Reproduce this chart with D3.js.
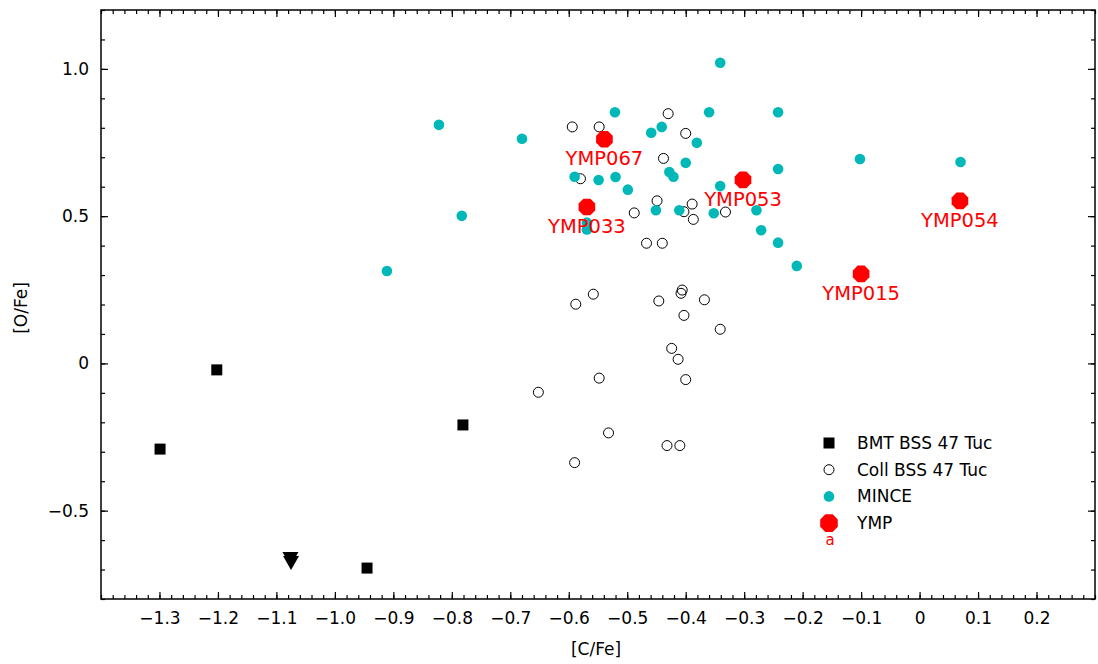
<!DOCTYPE html>
<html>
<head>
<meta charset="utf-8">
<script src="https://cdn.jsdelivr.net/npm/d3@7"></script>
<style>
  body { margin: 0; background: #fff; }
  text { font-family: "DejaVu Sans", sans-serif; }
</style>
</head>
<body>
<div id="chart"></div>
<script>
// BMT BSS 47 Tuc (squares) and the two upper limits (triangles)
const bmtC = [-1.299, -1.202, -0.781, -0.945];
const bmtO = [-0.291, -0.022, -0.209, -0.695];
const bmtLimC = [-1.076, -1.075];
const bmtLimO = [-0.661, -0.674];

// Coll BSS 47 Tuc (open circles)
const collC = [-0.594, -0.548, -0.430, -0.400, -0.580, -0.438, -0.389, -0.403, -0.449, -0.488,
               -0.387, -0.332, -0.467, -0.440, -0.406, -0.408, -0.446, -0.368, -0.588, -0.558,
               -0.403, -0.341, -0.424, -0.413, -0.548, -0.400, -0.652, -0.532, -0.432, -0.410, -0.590];
const collO = [0.803, 0.803, 0.848, 0.781, 0.627, 0.696, 0.541, 0.515, 0.552, 0.511,
               0.489, 0.514, 0.408, 0.408, 0.249, 0.238, 0.212, 0.216, 0.201, 0.235,
               0.163, 0.116, 0.051, 0.014, -0.050, -0.055, -0.098, -0.236, -0.279, -0.279, -0.337];

// MINCE
const minceC = [-0.341, -0.822, -0.680, -0.911, -0.783, -0.521, -0.360, -0.242, -0.441, -0.459,
                -0.381, -0.400, -0.242, -0.428, -0.421, -0.590, -0.549, -0.520, -0.499, -0.341,
                -0.451, -0.411, -0.352, -0.279, -0.271, -0.242, -0.569, -0.569, -0.102, 0.070, -0.210];
const minceO = [1.021, 0.810, 0.763, 0.314, 0.501, 0.853, 0.853, 0.853, 0.803, 0.783,
                0.749, 0.681, 0.660, 0.650, 0.634, 0.634, 0.623, 0.633, 0.590, 0.602,
                0.520, 0.520, 0.510, 0.520, 0.452, 0.410, 0.478, 0.455, 0.694, 0.684, 0.331];

// YMP
const ympNames = ["YMP067", "YMP053", "YMP033", "YMP054", "YMP015"];
const ympC = [-0.539, -0.302, -0.569, 0.069, -0.100];
const ympO = [0.761, 0.623, 0.531, 0.552, 0.304];

const xTicks = [-1.3, -1.2, -1.1, -1.0, -0.9, -0.8, -0.7, -0.6, -0.5, -0.4, -0.3, -0.2, -0.1, 0, 0.1, 0.2];
const yTicks = [-0.5, 0, 0.5, 1.0];
const legendLabels = ["BMT BSS 47 Tuc", "Coll BSS 47 Tuc", "MINCE", "YMP"];

const W = 1098, H = 664;
const margin = {top: 10, right: 3, bottom: 65, left: 101};
const cyan = "#00b8b8", red = "#ff0000";

const svg = d3.select("#chart").append("svg")
    .attr("width", W).attr("height", H);

const x = d3.scaleLinear().domain([-1.4, 0.3]).range([margin.left, W - margin.right]);
const y = d3.scaleLinear().domain([-0.8, 1.2]).range([H - margin.bottom, margin.top]);

const fmt = d => d === 0 ? "0" : d3.format(".1f")(d);
const xMinor = d3.range(-1.4, 0.3001, 0.02).map(d => +d.toFixed(2));
const yMinor = d3.range(-0.8, 1.2001, 0.1).map(d => +d.toFixed(1));

function styleAxis(g) {
    g.selectAll(".domain").remove();
    g.selectAll("line").attr("stroke", "#000").attr("stroke-width", 1.2);
    g.selectAll("text").attr("font-size", 17).attr("fill", "#000")
        .attr("font-family", "DejaVu Sans, sans-serif");
}

// minor ticks
svg.append("g").attr("transform", `translate(0,${y.range()[0]})`)
    .call(d3.axisBottom(x).tickValues(xMinor).tickSize(-4).tickFormat("")).call(styleAxis);
svg.append("g").attr("transform", `translate(0,${y.range()[1]})`)
    .call(d3.axisTop(x).tickValues(xMinor).tickSize(-4).tickFormat("")).call(styleAxis);
svg.append("g").attr("transform", `translate(${x.range()[0]},0)`)
    .call(d3.axisLeft(y).tickValues(yMinor).tickSize(-4).tickFormat("")).call(styleAxis);
svg.append("g").attr("transform", `translate(${x.range()[1]},0)`)
    .call(d3.axisRight(y).tickValues(yMinor).tickSize(-4).tickFormat("")).call(styleAxis);

// major ticks
svg.append("g").attr("transform", `translate(0,${y.range()[0]})`)
    .call(d3.axisBottom(x).tickValues(xTicks).tickSize(-7).tickPadding(13).tickFormat(fmt)).call(styleAxis);
svg.append("g").attr("transform", `translate(0,${y.range()[1]})`)
    .call(d3.axisTop(x).tickValues(xTicks).tickSize(-7).tickFormat("")).call(styleAxis);
svg.append("g").attr("transform", `translate(${x.range()[0]},0)`)
    .call(d3.axisLeft(y).tickValues(yTicks).tickSize(-7).tickPadding(12).tickFormat(fmt)).call(styleAxis);
svg.append("g").attr("transform", `translate(${x.range()[1]},0)`)
    .call(d3.axisRight(y).tickValues(yTicks).tickSize(-7).tickFormat("")).call(styleAxis);

// frame
svg.append("rect")
    .attr("x", x.range()[0]).attr("y", y.range()[1])
    .attr("width", x.range()[1] - x.range()[0]).attr("height", y.range()[0] - y.range()[1])
    .attr("fill", "none").attr("stroke", "#000").attr("stroke-width", 1.5);

// axis labels
svg.append("text").attr("x", (x.range()[0] + x.range()[1]) / 2 - 2).attr("y", 655)
    .attr("text-anchor", "middle").attr("font-size", 17).text("[C/Fe]");
svg.append("text").attr("transform", "translate(27,308) rotate(-90)")
    .attr("text-anchor", "middle").attr("font-size", 17).text("[O/Fe]");

const octagon = (cx, cy, r) => d3.range(8).map(k => {
    const a = Math.PI / 8 + k * Math.PI / 4;
    return [cx + r * Math.cos(a), cy + r * Math.sin(a)];
}).map(p => p.join(",")).join(" ");

const plot = svg.append("g");

// BMT squares
plot.selectAll(".bmt").data(bmtC).join("rect")
    .attr("x", (d, i) => x(d) - 5.5).attr("y", (d, i) => y(bmtO[i]) - 5.5)
    .attr("width", 11).attr("height", 11).attr("fill", "#000");
plot.selectAll(".lim").data(bmtLimC).join("path")
    .attr("transform", (d, i) => `translate(${x(d)},${y(bmtLimO[i])})`)
    .attr("d", "M-8,-6L8,-6L0,8Z").attr("fill", "#000");

// Coll open circles
plot.selectAll(".coll").data(collC).join("circle")
    .attr("cx", d => x(d)).attr("cy", (d, i) => y(collO[i])).attr("r", 5)
    .attr("fill", "none").attr("stroke", "#000").attr("stroke-width", 1);

// MINCE
plot.selectAll(".mince").data(minceC).join("circle")
    .attr("cx", d => x(d)).attr("cy", (d, i) => y(minceO[i])).attr("r", 5.3)
    .attr("fill", cyan);

// YMP
plot.selectAll(".ymp").data(ympC).join("polygon")
    .attr("points", (d, i) => octagon(x(d), y(ympO[i]), 9))
    .attr("fill", red);
plot.selectAll(".ymplab").data(ympNames).join("text")
    .attr("x", (d, i) => x(ympC[i])).attr("y", (d, i) => y(ympO[i]) + 26)
    .attr("text-anchor", "middle").attr("font-size", 19.5).attr("fill", red)
    .text(d => d);

// legend
const lg = svg.append("g").attr("transform", "translate(829,443)");
const rowH = 26.7;
lg.append("rect").attr("x", -5.5).attr("y", -5.5).attr("width", 11).attr("height", 11).attr("fill", "#000");
lg.append("circle").attr("cy", rowH).attr("r", 5).attr("fill", "none").attr("stroke", "#000");
lg.append("circle").attr("cy", rowH * 2).attr("r", 5.3).attr("fill", cyan);
lg.append("polygon").attr("points", octagon(0, rowH * 3, 9.5)).attr("fill", red);
lg.selectAll(".lt").data(legendLabels).join("text")
    .attr("x", 28).attr("y", (d, i) => i * rowH + 6)
    .attr("font-size", 17).attr("fill", "#000").text(d => d);
lg.append("text").attr("x", 1).attr("y", rowH * 3 + 22)
    .attr("text-anchor", "middle").attr("font-size", 15).attr("fill", red).text("a");
</script>
</body>
</html>
